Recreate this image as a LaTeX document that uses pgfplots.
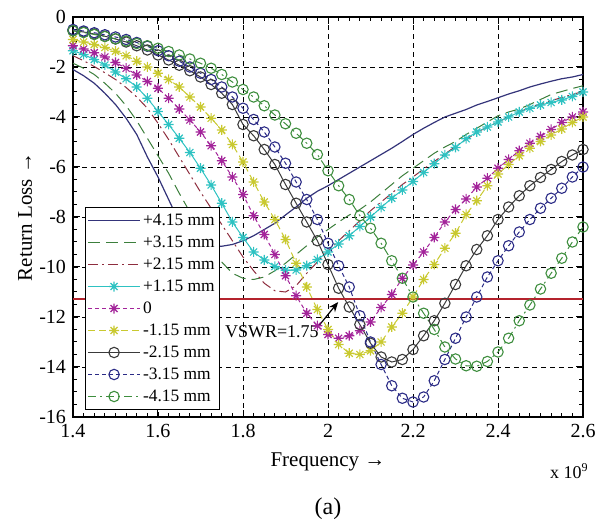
\documentclass[border=0pt]{standalone}
\usepackage{pgfplots}
\pgfplotsset{compat=1.18}
\usepackage{pgfplotstable}
\usepackage{fontspec}
\setmainfont{Liberation Serif}
\usetikzlibrary{arrows.meta}

\definecolor{cA}{HTML}{34347A}
\definecolor{cB}{HTML}{3C7F3C}
\definecolor{cC}{HTML}{8E2D3E}
\definecolor{cD}{HTML}{2EC2C2}
\definecolor{cE}{HTML}{A3249A}
\definecolor{cF}{HTML}{C9C930}
\definecolor{cG}{HTML}{3A3A3A}
\definecolor{cH}{HTML}{2B2B86}
\definecolor{cI}{HTML}{3E8E3E}
\definecolor{vswr}{RGB}{180,35,45}

% MATLAB-style eight-armed star
\pgfdeclareplotmark{mstar}{%
  \pgfpathmoveto{\pgfqpoint{-\pgfplotmarksize}{0pt}}\pgfpathlineto{\pgfqpoint{\pgfplotmarksize}{0pt}}%
  \pgfpathmoveto{\pgfqpoint{0pt}{-\pgfplotmarksize}}\pgfpathlineto{\pgfqpoint{0pt}{\pgfplotmarksize}}%
  \pgfpathmoveto{\pgfqpoint{-.707\pgfplotmarksize}{-.707\pgfplotmarksize}}\pgfpathlineto{\pgfqpoint{.707\pgfplotmarksize}{.707\pgfplotmarksize}}%
  \pgfpathmoveto{\pgfqpoint{-.707\pgfplotmarksize}{.707\pgfplotmarksize}}\pgfpathlineto{\pgfqpoint{.707\pgfplotmarksize}{-.707\pgfplotmarksize}}%
  \pgfusepathqstroke}

% return loss (dB) versus frequency (GHz) for each offset
\pgfplotstableread{
f     p415   p315    p215    p115    z       m115    m215    m315    m415
1.400 -2.10  -1.85   -1.55   -1.35   -1.15   -0.90   -0.55   -0.50   -0.55
1.425 -2.35  -2.05   -1.75   -1.50   -1.28   -1.00   -0.60   -0.56   -0.62
1.450 -2.65  -2.30   -1.98   -1.70   -1.43   -1.10   -0.68   -0.63   -0.70
1.475 -3.05  -2.65   -2.23   -1.92   -1.60   -1.22   -0.77   -0.71   -0.78
1.500 -3.50  -3.05   -2.50   -2.20   -1.82   -1.37   -0.88   -0.80   -0.87
1.525 -4.05  -3.55   -2.82   -2.47   -2.05   -1.55   -1.00   -0.90   -0.96
1.550 -4.70  -4.15   -3.20   -2.80   -2.32   -1.77   -1.15   -1.02   -1.06
1.575 -5.60  -4.85   -3.65   -3.25   -2.58   -2.00   -1.32   -1.17   -1.15
1.600 -6.40  -5.55   -4.25   -3.78   -2.85   -2.25   -1.52   -1.35   -1.25
1.625 -7.30  -6.25   -4.90   -4.30   -3.25   -2.50   -1.72   -1.55   -1.38
1.650 -8.20  -7.05   -5.60   -4.85   -3.68   -2.80   -1.93   -1.77   -1.52
1.675 -8.75  -7.80   -6.30   -5.42   -4.12   -3.20   -2.15   -2.00   -1.68
1.700 -9.05  -8.55   -7.00   -6.05   -4.60   -3.60   -2.40   -2.25   -1.85
1.725 -9.17  -9.20   -7.65   -6.72   -5.15   -4.05   -2.70   -2.50   -2.05
1.750 -9.17  -9.80   -8.30   -7.45   -5.75   -4.52   -3.05   -2.80   -2.30
1.775 -9.10  -10.25  -8.95   -8.20   -6.40   -5.10   -3.50   -3.20   -2.60
1.800 -8.95  -10.45  -9.60   -8.82   -7.10   -5.80   -4.30   -3.65   -2.90
1.825 -8.75  -10.50  -10.15  -9.40   -7.95   -6.60   -4.75   -4.10   -3.20
1.850 -8.50  -10.40  -10.65  -9.72   -8.70   -7.40   -5.30   -4.60   -3.55
1.875 -8.25  -10.15  -10.95  -9.98   -9.50   -8.10   -5.90   -5.20   -3.92
1.900 -7.92  -9.85   -11.00  -10.13  -10.35  -8.90   -6.70   -5.85   -4.27
1.925 -7.60  -9.50   -10.75  -10.12  -11.15  -9.85   -7.45   -6.60   -4.65
1.950 -7.25  -9.15   -10.25  -9.95   -11.85  -10.80  -8.20   -7.30   -5.05
1.975 -6.97  -8.80   -9.80   -9.70   -12.35  -11.70  -8.95   -8.10   -5.50
2.000 -6.75  -8.50   -9.35   -9.40   -12.70  -12.50  -9.90   -9.05   -6.15
2.025 -6.50  -8.20   -8.95   -9.08   -12.85  -13.10  -10.85  -9.95   -6.75
2.050 -6.25  -7.92   -8.55   -8.75   -12.75  -13.45  -11.60  -10.80  -7.30
2.075 -6.00  -7.70   -8.15   -8.38   -12.55  -13.50  -12.30  -11.95  -7.95
2.100 -5.75  -7.40   -7.75   -8.00   -12.20  -13.35  -13.05  -13.00  -8.45
2.125 -5.50  -7.05   -7.40   -7.62   -11.62  -13.00  -13.60  -13.90  -9.05
2.150 -5.25  -6.70   -7.05   -7.25   -11.10  -12.40  -13.80  -14.75  -9.75
2.175 -4.98  -6.35   -6.70   -6.92   -10.45  -11.85  -13.70  -15.25  -10.45
2.200 -4.70  -6.05   -6.40   -6.58   -9.92   -11.20  -13.30  -15.40  -11.20
2.225 -4.45  -5.75   -6.08   -6.22   -9.40   -10.50  -12.75  -15.20  -11.85
2.250 -4.22  -5.45   -5.78   -5.87   -8.82   -9.90   -12.15  -14.55  -12.50
2.275 -4.00  -5.20   -5.48   -5.52   -8.20   -9.25   -11.45  -13.70  -13.20
2.300 -3.85  -4.98   -5.18   -5.22   -7.70   -8.65   -10.70  -12.85  -13.68
2.325 -3.70  -4.70   -4.90   -4.87   -7.28   -7.90   -9.95   -12.00  -13.95
2.350 -3.52  -4.45   -4.62   -4.60   -6.80   -7.35   -9.30   -11.20  -13.97
2.375 -3.38  -4.20   -4.40   -4.40   -6.45   -6.75   -8.75   -10.40  -13.78
2.400 -3.23  -3.95   -4.20   -4.20   -6.05   -6.28   -8.10   -9.75   -13.40
2.425 -3.08  -3.80   -4.00   -4.00   -5.70   -5.90   -7.60   -9.15   -12.85
2.450 -2.95  -3.68   -3.80   -3.80   -5.35   -5.55   -7.15   -8.60   -12.15
2.475 -2.80  -3.50   -3.62   -3.65   -5.05   -5.25   -6.75   -8.10   -11.52
2.500 -2.68  -3.30   -3.48   -3.52   -4.78   -4.98   -6.42   -7.65   -10.88
2.525 -2.57  -3.10   -3.35   -3.42   -4.50   -4.72   -6.10   -7.25   -10.25
2.550 -2.47  -2.98   -3.22   -3.32   -4.22   -4.48   -5.78   -6.85   -9.65
2.575 -2.40  -2.86   -3.10   -3.18   -4.00   -4.22   -5.52   -6.40   -9.00
2.600 -2.30  -2.75   -2.98   -3.00   -3.80   -4.00   -5.30   -6.00   -8.40
}\rl

\begin{document}
\begin{tikzpicture}
\begin{axis}[
  name=ax,
  scale only axis, width=255pt, height=200pt,
  xmin=1.4, xmax=2.6, ymin=-16, ymax=0,
  xtick={1.4,1.6,1.8,2.0,2.2,2.4,2.6},
  ytick={-16,-14,-12,-10,-8,-6,-4,-2,0},
  minor x tick num=7, minor y tick num=3,
  tick align=inside,
  major tick length=3.5pt, minor tick length=2pt,
  every tick/.style={black, line width=0.5pt},
  grid=major,
  major grid style={black, line width=0.45pt, dash pattern=on 2.5pt off 2pt},
  axis line style={black, line width=0.6pt},
  tick label style={font=\fontsize{10}{12}\selectfont},
  /pgf/number format/assume math mode=true,
  scaled ticks=false,
  legend cell align=left,
  legend style={at={(0.0235,0.525)}, anchor=north west, draw=black,
    line width=0.5pt, fill=white, inner sep=1pt,
    font=\fontsize{8.7}{10}\selectfont,
    nodes={inner sep=1.2pt, text height=6.6pt, text depth=2pt}},
  legend image code/.code={%
    \draw[mark repeat=2,mark phase=2,#1] plot coordinates {(0pt,0pt) (13pt,0pt) (26pt,0pt)};},
  every axis plot/.append style={line width=0.5pt},
]
\addplot[cA, line width=0.6pt] table[x=f,y=p415]{\rl};
\addlegendentry{+4.15 mm}
\addplot[cB, dash pattern=on 6pt off 3pt] table[x=f,y=p315]{\rl};
\addlegendentry{+3.15 mm}
\addplot[cC, dash pattern=on 5pt off 2pt on 1pt off 2pt] table[x=f,y=p215]{\rl};
\addlegendentry{+2.15 mm}
\addplot[cD, mark=mstar, mark size=2.5pt, mark options={solid, line width=0.6pt}] table[x=f,y=p115]{\rl};
\addlegendentry{+1.15 mm}
\addplot[cE, dash pattern=on 2pt off 1.5pt, mark=mstar, mark size=2.5pt, mark options={solid, line width=0.6pt}] table[x=f,y=z]{\rl};
\addlegendentry{0}
\addplot[cF, dash pattern=on 3.5pt off 2pt, mark=mstar, mark size=2.5pt, mark options={solid, line width=0.6pt}] table[x=f,y=m115]{\rl};
\addlegendentry{-1.15 mm}
\addplot[cG, mark=o, mark size=2.6pt, mark options={solid, line width=0.55pt}] table[x=f,y=m215]{\rl};
\addlegendentry{-2.15 mm}
\addplot[cH, dash pattern=on 2pt off 1.5pt, mark=o, mark size=2.6pt, mark options={solid, line width=0.55pt}] table[x=f,y=m315]{\rl};
\addlegendentry{-3.15 mm}
\addplot[cI, dash pattern=on 4pt off 2pt on 1pt off 2pt, mark=o, mark size=2.6pt, mark options={solid, line width=0.55pt}] table[x=f,y=m415]{\rl};
\addlegendentry{-4.15 mm}
% return loss for VSWR = 1.75
\addplot[draw=vswr, line width=0.8pt, forget plot] coordinates {(1.4,-11.29) (2.6,-11.29)};
\draw[-{Stealth[length=5pt,width=4pt]}, black, line width=0.6pt] (axis cs:1.976,-12.4) -- (axis cs:2.024,-11.4);
\node[font=\fontsize{9}{11}\selectfont, inner sep=0pt] at (axis cs:1.868,-12.6) {VSWR=1.75};
\end{axis}
\node[rotate=90, font=\fontsize{10.5}{12}\selectfont] at ([xshift=-24pt]ax.west) {Return Loss →};
\node[font=\fontsize{10.5}{12}\selectfont] at ([yshift=-22.5pt]ax.south) {Frequency →};
\node[anchor=east, font=\fontsize{9}{11}\selectfont, inner sep=0pt] at ([xshift=3pt,yshift=-27pt]ax.south east) {x 10\textsuperscript{9}};
\node[font=\fontsize{12}{14}\selectfont] at ([yshift=-46pt]ax.south) {(a)};
\path ([shift={(-36.5pt,-52pt)}]ax.south west) ([shift={(11pt,8.5pt)}]ax.north east);
\end{tikzpicture}
\end{document}
